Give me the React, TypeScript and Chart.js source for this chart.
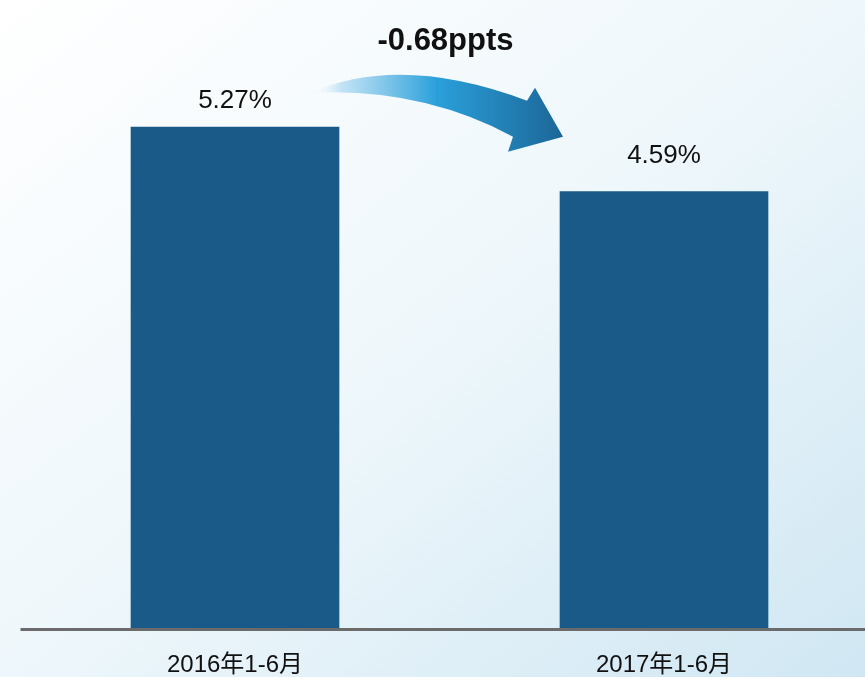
import React, { useEffect, useRef } from "react";
import { Chart, registerables } from "chart.js";

Chart.register(...registerables);

const categories = ["2016年1-6月", "2017年1-6月"];
const values = [5.27, 4.59];
const valueLabels = ["5.27%", "4.59%"];
const changeLabel = "-0.68ppts";
const labelOffsets = [19, 29];

const BAR_COLOR = "#1a5a89";
const FONT = "'Liberation Sans', Arial, 'Noto Sans CJK SC', sans-serif";

const decorPlugin = {
  id: "decor",
  afterDatasetsDraw(chart: any) {
    const ctx = chart.ctx;
    const meta = chart.getDatasetMeta(0);
    const y0 = chart.scales.y.getPixelForValue(0);
    // axis line
    ctx.save();
    ctx.strokeStyle = "#6b6b6b";
    ctx.lineWidth = 3;
    ctx.beginPath();
    ctx.moveTo(chart.chartArea.left, y0 + 1.5);
    ctx.lineTo(chart.width, y0 + 1.5);
    ctx.stroke();

    // value labels
    ctx.fillStyle = "#111";
    ctx.font = "26px " + FONT;
    ctx.textAlign = "center";
    ctx.textBaseline = "alphabetic";
    meta.data.forEach((bar: any, i: number) => {
      ctx.fillText(valueLabels[i], bar.x, bar.y - labelOffsets[i]);
    });

    // arrow
    const b1 = meta.data[0];
    const b2 = meta.data[1];
    const P = (b: any, dx: number, dy: number) => [b.x + dx, b.y + dy];
    const tail = P(b1, 75, -34);
    const uc = P(b1, 165, -74);
    const ue = P(b2, -137, -91);
    const bt = P(b2, -129, -104);
    const tip = P(b2, -101, -55);
    const bb = P(b2, -156, -40);
    const ls = P(b2, -151, -55);
    const lc = P(b1, 185, -40);
    const grad = ctx.createLinearGradient(tail[0], 0, tip[0], 0);
    grad.addColorStop(0, "rgba(255,255,255,0)");
    grad.addColorStop(0.12, "rgba(190,225,245,0.9)");
    grad.addColorStop(0.5, "#2aa0da");
    grad.addColorStop(1, "#1c6697");
    ctx.fillStyle = grad;
    ctx.beginPath();
    ctx.moveTo(tail[0], tail[1]);
    ctx.quadraticCurveTo(uc[0], uc[1], ue[0], ue[1]);
    ctx.lineTo(bt[0], bt[1]);
    ctx.lineTo(tip[0], tip[1]);
    ctx.lineTo(bb[0], bb[1]);
    ctx.lineTo(ls[0], ls[1]);
    ctx.quadraticCurveTo(lc[0], lc[1], tail[0], tail[1]);
    ctx.closePath();
    ctx.fill();

    // change label
    ctx.fillStyle = "#111";
    ctx.font = "bold 31px " + FONT;
    ctx.textAlign = "center";
    ctx.textBaseline = "middle";
    ctx.fillText(changeLabel, (b1.x + b2.x) / 2 - 4, 41);
    ctx.restore();
  },
};

export default function App() {
  const ref = useRef<HTMLCanvasElement>(null);
  useEffect(() => {
    if (!ref.current) return;
    const chart = new Chart(ref.current, {
      type: "bar",
      data: {
        labels: categories,
        datasets: [
          {
            data: values,
            backgroundColor: BAR_COLOR,
            barThickness: 208,
          },
        ],
      },
      options: {
        responsive: false,
        animation: false,
        layout: { padding: { left: 20.5, right: 1.5, top: 57.6, bottom: 0 } },
        plugins: { legend: { display: false }, tooltip: { enabled: false } },
        scales: {
          y: { display: false, min: 0, max: 6 },
          x: {
            grid: { display: false, drawTicks: false },
            border: { display: false },
            ticks: {
              color: "#111",
              font: { size: 24, family: FONT },
              padding: 23,
            },
            afterFit: (axis: any) => {
              axis.height = 49;
            },
          },
        },
      },
      plugins: [decorPlugin],
    });
    return () => chart.destroy();
  }, []);
  return (
    <div
      style={{
        position: "absolute",
        left: 0,
        top: 0,
        width: 865,
        height: 677,
        overflow: "hidden",
        background:
          "linear-gradient(to bottom right, #ffffff 0%, #eef7fb 50%, #d0e7f3 100%)",
      }}
    >
      <canvas ref={ref} width={880} height={677} style={{ display: "block" }} />
    </div>
  );
}
